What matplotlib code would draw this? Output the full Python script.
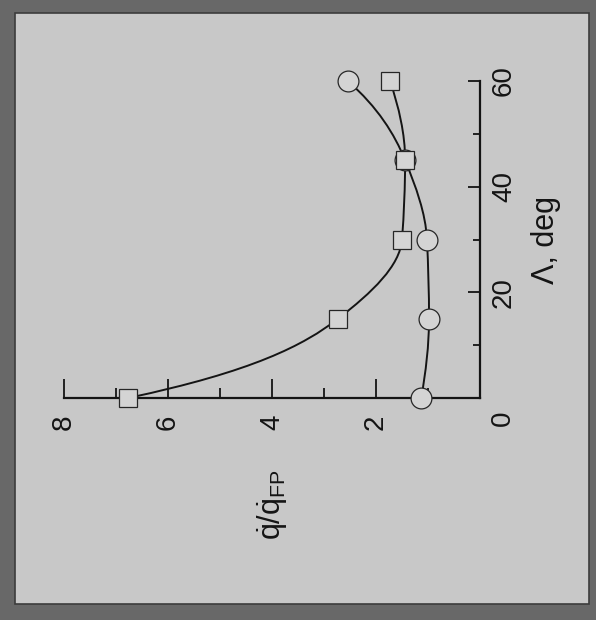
import numpy as np
import matplotlib
matplotlib.use('Agg')
import matplotlib.pyplot as plt
from matplotlib import font_manager
from matplotlib.path import Path
from matplotlib.patches import PathPatch, Rectangle

# sweep angle (deg) and heating ratio
sweep = [0, 15, 30, 45, 60]
q_square = [6.77, 2.73, 1.50, 1.44, 1.73]
q_circle = [1.13, 0.98, 1.02, 1.44, 2.54]

q_ticks = [2, 4, 6, 8]
q_tick_labels = ['2', '4', '6', '8']
sweep_ticks = [20, 40, 60]
sweep_tick_labels = ['20', '40', '60']


def has_font(name):
    try:
        font_manager.findfont(name, fallback_to_default=False)
        return True
    except ValueError:
        return False
#has_font

font = 'Liberation Sans Narrow' if has_font('Liberation Sans Narrow') else 'Liberation Sans'
plt.rcParams['font.family'] = [font, 'DejaVu Sans']
plt.rcParams['mathtext.fontset'] = 'custom'
plt.rcParams['mathtext.rm'] = font


#smooth curve through the points: cubic Hermite pieces as Bezier segments,
#slopes taken monotone-style on log(q)
def smooth_path(lam, q):
    lam = np.asarray(lam, float)
    q = np.asarray(q, float)
    h = np.diff(lam)
    d = np.diff(np.log(q)) / h
    m = np.zeros(len(q))

    for k in range(1, len(q) - 1):
        if d[k - 1] * d[k] > 0:
            m[k] = 2 / (1 / d[k - 1] + 1 / d[k])
        #if
    #for

    m[0] = (3 * d[0] - d[1]) / 2
    m[-1] = (3 * d[-1] - d[-2]) / 2
    m = m * q
    verts = [(q[0], lam[0])]
    codes = [Path.MOVETO]

    for k in range(len(q) - 1):
        s = h[k] / 3
        verts += [(q[k] + m[k] * s, lam[k] + s),
                  (q[k + 1] - m[k + 1] * s, lam[k + 1] - s),
                  (q[k + 1], lam[k + 1])]
        codes += [Path.CURVE4] * 3
    #for

    return Path(verts, codes)
#smooth_path

ink = '#141414'
panel = '#c8c8c8'
tick_size = 20

fig = plt.figure(figsize=(5.96, 6.2), dpi=100)
fig.patch.set_facecolor('#686868')
fig.add_artist(Rectangle((15 / 596, 16 / 620), 574 / 596, 591 / 620,
                         transform=fig.transFigure, facecolor=panel,
                         edgecolor='#3c3c3c', linewidth=1.2, zorder=-10))

ax = fig.add_axes([64 / 596, 222 / 620, 416 / 596, 317 / 620])
ax.patch.set_visible(False)
ax.set_xlim(8, 0)
ax.set_ylim(0, 60)

for side in ['top', 'left']:
    ax.spines[side].set_visible(False)
#for

for side in ['bottom', 'right']:
    ax.spines[side].set_linewidth(1.6)
    ax.spines[side].set_color(ink)
#for

ax.yaxis.tick_right()
ax.set_xticks([0] + q_ticks, [''] + q_tick_labels)
ax.set_xticks([1, 3, 5, 7], minor=True)
ax.set_yticks([0] + sweep_ticks, [''] + sweep_tick_labels)
ax.set_yticks([10, 30, 50], minor=True)
ax.tick_params(axis='x', which='major', direction='in', length=14, width=1.3,
               color=ink, labelsize=tick_size, labelcolor=ink, labelrotation=90, pad=12)
ax.tick_params(axis='x', which='minor', direction='in', length=7, width=1.3, color=ink)
ax.tick_params(axis='y', which='major', direction='in', length=9, width=1.3,
               color=ink, labelsize=tick_size, labelcolor=ink, labelrotation=90, pad=8)
ax.tick_params(axis='y', which='minor', direction='in', length=5, width=1.3, color=ink)

for lab in ax.get_yticklabels():
    lab.set_va('center')
#for

ax.text(1.055, -0.063, '0', transform=ax.transAxes, rotation=90,
        ha='center', va='center', fontsize=tick_size, color=ink)

ax.add_patch(PathPatch(smooth_path(sweep, q_square), fill=False,
                       edgecolor=ink, linewidth=1.4, zorder=2))
ax.add_patch(PathPatch(smooth_path(sweep, q_circle), fill=False,
                       edgecolor=ink, linewidth=1.4, zorder=2))
ax.plot(q_circle, sweep, 'o', markersize=15, markerfacecolor='#d4d4d4',
        markeredgecolor='#262626', markeredgewidth=0.9, clip_on=False, zorder=3)
ax.plot(q_square, sweep, 's', markersize=12.5, markerfacecolor='#d4d4d4',
        markeredgecolor='#262626', markeredgewidth=0.9, clip_on=False, zorder=4)

fig.text(272 / 596, 1 - 505 / 620, r'$\dot{\mathrm{q}}/\dot{\mathrm{q}}_{\mathrm{FP}}$',
         rotation=90, ha='center', va='center', fontsize=22, color=ink)
fig.text(546 / 596, 1 - 240 / 620, '\u039b, deg', rotation=90,
         ha='center', va='center', fontsize=22, color=ink)

fig.savefig('out.png', dpi=100, facecolor=fig.get_facecolor())
